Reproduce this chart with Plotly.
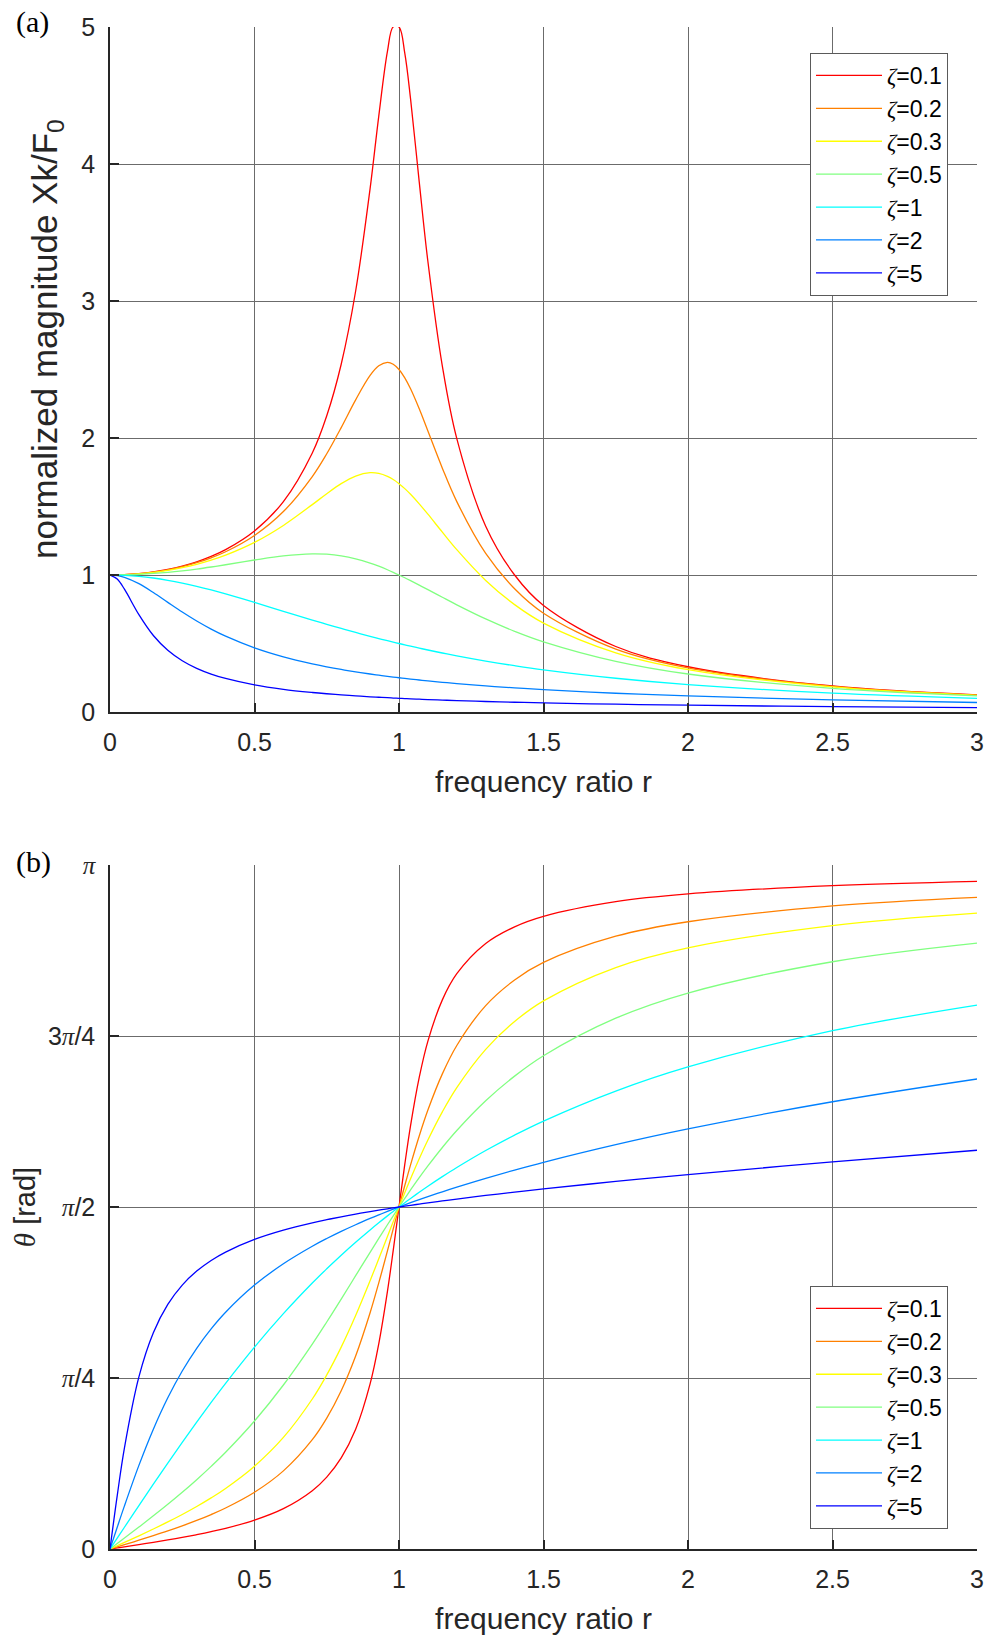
import plotly.graph_objects as go

# frequency ratio samples
R = [0, 0.025, 0.05, 0.1, 0.15, 0.2, 0.25, 0.3, 0.35, 0.4, 0.5, 0.6, 0.7, 0.75, 0.8, 0.85, 0.9, 0.93, 0.96, 0.98,
     1.0, 1.02, 1.04, 1.07, 1.1, 1.15, 1.2, 1.3, 1.4, 1.5, 1.75, 2.0, 2.5, 3.0]

ZETA_LABELS = ["0.1", "0.2", "0.3", "0.5", "1", "2", "5"]
COLORS = ["#FF0000", "#FF8000", "#FFFF00", "#80FF80", "#00FFFF", "#0080FF", "#0000FF"]

# (a) normalized magnitude Xk/F0
M01 = [1, 1.0006, 1.0025, 1.0099, 1.0225, 1.0408, 1.0652, 1.0965, 1.1360, 1.1851, 1.3216, 1.5357, 1.8908, 2.1622, 2.5383, 3.0729, 3.8208, 4.3499, 4.8218, 5.0010, 5.0, 4.8086, 4.4757, 3.8694, 3.2880, 2.5245, 1.9952, 1.3562, 1.0, 0.7779, 0.4780, 0.3304, 0.1896, 0.1247]
M02 = [1, 1.0006, 1.0023, 1.0093, 1.0211, 1.0381, 1.0606, 1.0895, 1.1254, 1.1695, 1.2883, 1.4630, 1.7188, 1.8851, 2.0761, 2.2786, 2.4566, 2.5267, 2.5515, 2.5381, 2.5, 2.4391, 2.3589, 2.2130, 2.0511, 1.7800, 1.5357, 1.1574, 0.8998, 0.7212, 0.4591, 0.3221, 0.1871, 0.1236]
M03 = [1, 1.0005, 1.0021, 1.0083, 1.0187, 1.0336, 1.0533, 1.0780, 1.1083, 1.1447, 1.2380, 1.3618, 1.5136, 1.5933, 1.6667, 1.7223, 1.7469, 1.7418, 1.7203, 1.6969, 1.6667, 1.6304, 1.5890, 1.5194, 1.4438, 1.3129, 1.1851, 0.9603, 0.7839, 0.6492, 0.4321, 0.3095, 0.1832, 0.1220]
M05 = [1, 1.0003, 1.0013, 1.0050, 1.0112, 1.0198, 1.0307, 1.0436, 1.0585, 1.0748, 1.1094, 1.1399, 1.1546, 1.1517, 1.1399, 1.1184, 1.0872, 1.0641, 1.0382, 1.0196, 1.0, 0.9796, 0.9586, 0.9261, 0.8930, 0.8373, 0.7824, 0.6795, 0.5891, 0.5122, 0.3697, 0.2774, 0.1720, 0.1170]
M1 = [1, 0.9994, 0.9975, 0.9901, 0.9780, 0.9615, 0.9412, 0.9174, 0.8909, 0.8621, 0.8, 0.7353, 0.6711, 0.64, 0.6098, 0.5806, 0.5525, 0.5362, 0.5204, 0.5101, 0.5, 0.4901, 0.4804, 0.4662, 0.4525, 0.4306, 0.4098, 0.3717, 0.3378, 0.3077, 0.2462, 0.2, 0.1379, 0.1]
M2 = [1, 0.9957, 0.9829, 0.9366, 0.8719, 0.8002, 0.7295, 0.6640, 0.6052, 0.5534, 0.4682, 0.4026, 0.3514, 0.3298, 0.3105, 0.2931, 0.2774, 0.2686, 0.2604, 0.2551, 0.25, 0.2451, 0.2403, 0.2335, 0.2270, 0.2169, 0.2075, 0.1906, 0.1760, 0.1632, 0.1370, 0.1170, 0.0885, 0.0693]
M5 = [1, 0.9707, 0.8962, 0.7107, 0.5585, 0.4508, 0.3745, 0.3190, 0.2771, 0.2447, 0.1978, 0.1657, 0.1425, 0.1331, 0.1249, 0.1176, 0.1111, 0.1075, 0.1042, 0.1020, 0.1, 0.0980, 0.0962, 0.0935, 0.0909, 0.0869, 0.0833, 0.0768, 0.0713, 0.0664, 0.0568, 0.0495, 0.0392, 0.0322]

# (b) phase angle theta [rad]
P01 = [0, 0.0050, 0.0100, 0.0202, 0.0307, 0.0416, 0.0533, 0.0658, 0.0796, 0.0950, 0.1326, 0.1853, 0.2679, 0.3303, 0.4182, 0.5496, 0.7584, 0.9426, 1.1831, 1.3714, 1.5708, 1.7663, 1.9447, 2.1660, 2.3329, 2.5221, 2.6422, 2.7812, 2.8578, 2.9060, 2.9735, 3.0090, 3.0466, 3.0667]
P02 = [0, 0.0100, 0.0200, 0.0404, 0.0613, 0.0831, 0.1063, 0.1311, 0.1582, 0.1882, 0.2606, 0.3588, 0.5021, 0.6011, 0.7266, 0.8863, 1.0852, 1.2224, 1.3694, 1.4701, 1.5708, 1.6695, 1.7645, 1.8972, 2.0161, 2.1823, 2.3127, 2.4958, 2.6135, 2.6941, 2.8144, 2.8810, 2.9534, 2.9927]
P03 = [0, 0.0150, 0.0301, 0.0605, 0.0918, 0.1244, 0.1587, 0.1953, 0.2349, 0.2783, 0.3805, 0.5124, 0.6889, 0.7995, 0.9273, 1.0725, 1.2325, 1.3333, 1.4355, 1.5036, 1.5708, 1.6367, 1.7008, 1.7928, 1.8788, 2.0080, 2.1193, 2.2950, 2.4228, 2.5176, 2.6707, 2.7611, 2.8633, 2.9203]
P05 = [0, 0.0250, 0.0501, 0.1007, 0.1523, 0.2054, 0.2606, 0.3185, 0.3795, 0.4444, 0.5880, 0.7532, 0.9412, 1.0427, 1.1479, 1.2552, 1.3627, 1.4265, 1.4893, 1.5304, 1.5708, 1.6104, 1.6491, 1.7054, 1.7594, 1.8442, 1.9222, 2.0588, 2.1719, 2.2655, 2.4380, 2.5536, 2.6972, 2.7828]
P1 = [0, 0.0500, 0.0999, 0.1993, 0.2978, 0.3948, 0.4900, 0.5829, 0.6734, 0.7610, 0.9273, 1.0808, 1.2215, 1.2870, 1.3495, 1.4090, 1.4656, 1.4983, 1.5300, 1.5506, 1.5708, 1.5906, 1.6100, 1.6384, 1.6660, 1.7101, 1.7521, 1.8302, 1.9011, 1.9656, 2.1033, 2.2143, 2.3806, 2.4981]
P2 = [0, 0.0997, 0.1979, 0.3840, 0.5505, 0.6947, 0.8176, 0.9220, 1.0109, 1.0873, 1.2120, 1.3102, 1.3906, 1.4260, 1.4588, 1.4894, 1.5181, 1.5345, 1.5504, 1.5607, 1.5708, 1.5807, 1.5904, 1.6046, 1.6185, 1.6408, 1.6622, 1.7027, 1.7406, 1.7762, 1.8573, 1.9296, 2.0542, 2.1588]
P5 = [0, 0.2451, 0.4647, 0.7904, 0.9933, 1.1233, 1.2120, 1.2763, 1.3251, 1.3638, 1.4219, 1.4645, 1.4981, 1.5125, 1.5258, 1.5382, 1.5497, 1.5563, 1.5626, 1.5668, 1.5708, 1.5748, 1.5786, 1.5843, 1.5899, 1.5988, 1.6074, 1.6238, 1.6393, 1.6539, 1.6881, 1.7197, 1.7778, 1.8314]

X_TICKS = [0, 0.5, 1, 1.5, 2, 2.5, 3]
X_TICKTEXT = ["0", "0.5", "1", "1.5", "2", "2.5", "3"]
YA_TICKS = [0, 1, 2, 3, 4, 5]
YB_TICKS = [0, 0.785398, 1.570796, 2.356194, 3.141593]

SERIF = "Liberation Serif, Times New Roman, serif"
SANS = "Liberation Sans, Arial, sans-serif"


def pi_txt(s):
    return s.replace("π", "<span style='font-family:Liberation Serif'><i>π</i></span>")


YB_TICKTEXT = ["0", pi_txt("π/4"), pi_txt("π/2"), pi_txt("3π/4"), pi_txt("π")]
ZETA = "<span style='font-family:Liberation Serif'><i>ζ</i></span>"

MAGS = [M01, M02, M03, M05, M1, M2, M5]
PHASES = [P01, P02, P03, P05, P1, P2, P5]

fig = go.Figure()
for lab, col, m in zip(ZETA_LABELS, COLORS, MAGS):
    fig.add_trace(go.Scatter(x=R, y=m, mode="lines", line=dict(color=col, width=1.3, shape="spline"),
                             name=f"{ZETA}={lab}", xaxis="x", yaxis="y", legend="legend",
                             legendgroup="a" + lab))
for lab, col, p in zip(ZETA_LABELS, COLORS, PHASES):
    fig.add_trace(go.Scatter(x=R, y=p, mode="lines", line=dict(color=col, width=1.3, shape="spline"),
                             name=f"{ZETA}={lab}", xaxis="x2", yaxis="y2", legend="legend2",
                             legendgroup="b" + lab))

W, H = 992, 1637
xdom = [110 / W, 977 / W]
ya_dom = [1 - 712 / H, 1 - 27 / H]
yb_dom = [1 - 1549 / H, 1 - 865 / H]

TXT = "#262626"
axis_common = dict(showline=True, linecolor=TXT, linewidth=1.5, mirror=False,
                   showgrid=True, gridcolor="#6b6b6b", gridwidth=1, zeroline=False,
                   ticks="inside", ticklen=9, tickwidth=1.5, tickcolor=TXT,
                   tickfont=dict(family=SANS, size=25, color=TXT), automargin=False)

legend_common = dict(bgcolor="white", bordercolor="#5a5a5a", borderwidth=1,
                     font=dict(family=SANS, size=23, color="#000000"),
                     xanchor="left", yanchor="top", tracegroupgap=0, itemwidth=66)

fig.update_layout(
    width=W, height=H, margin=dict(l=0, r=0, t=0, b=0),
    paper_bgcolor="white", plot_bgcolor="white", showlegend=True,
    xaxis=dict(domain=xdom, anchor="y", range=[0, 3], tickvals=X_TICKS, ticktext=X_TICKTEXT,
               ticklabelstandoff=7,
               title=dict(text="frequency ratio r", font=dict(family=SANS, size=30, color=TXT), standoff=16),
               **axis_common),
    yaxis=dict(domain=ya_dom, anchor="x", range=[0, 5], tickvals=YA_TICKS, ticklabelstandoff=8,
               **axis_common),
    xaxis2=dict(domain=xdom, anchor="y2", range=[0, 3], tickvals=X_TICKS, ticktext=X_TICKTEXT,
                ticklabelstandoff=7,
                title=dict(text="frequency ratio r", font=dict(family=SANS, size=30, color=TXT), standoff=16),
                **axis_common),
    yaxis2=dict(domain=yb_dom, anchor="x2", range=[0, 3.141593], tickvals=YB_TICKS, ticktext=YB_TICKTEXT,
                ticklabelstandoff=8,
                title=dict(text="<span style='font-family:Liberation Serif'><i>θ</i></span> [rad]",
                           font=dict(family=SANS, size=29, color=TXT), standoff=4),
                **axis_common),
    legend=dict(x=810 / W, y=1 - 53 / H, **legend_common),
    legend2=dict(x=810 / W, y=1 - 1286 / H, **legend_common),
    annotations=[
        dict(text="normalized magnitude Xk/F<sub>0</sub>", textangle=-90, x=47 / W, y=1 - 339 / H,
             xref="paper", yref="paper", xanchor="center", yanchor="middle", showarrow=False,
             font=dict(family=SANS, size=35, color=TXT)),
        dict(text="(a)", x=14 / W, y=1 - 3 / H, xref="paper", yref="paper", xanchor="left", yanchor="top",
             showarrow=False, font=dict(family=SERIF, size=30, color="#000000")),
        dict(text="(b)", x=14 / W, y=1 - 843 / H, xref="paper", yref="paper", xanchor="left", yanchor="top",
             showarrow=False, font=dict(family=SERIF, size=30, color="#000000")),
    ],
)

fig.write_html("out.html")
